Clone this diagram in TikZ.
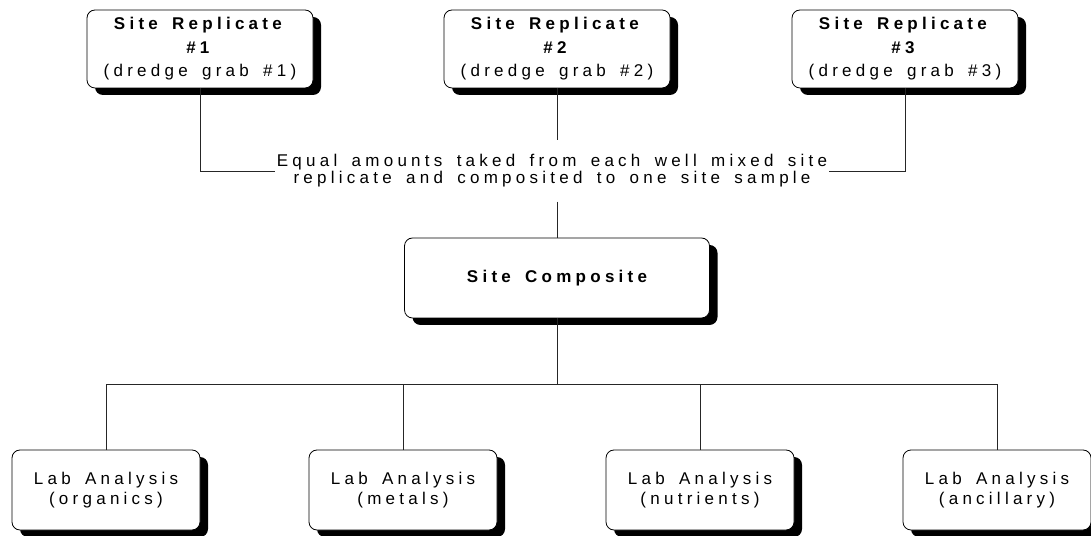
\documentclass[tikz,border=0pt]{standalone}
\usepackage{fontspec}
\setmainfont{Liberation Sans}[LetterSpace=25, WordSpace=1.6]
\usetikzlibrary{positioning,shadows}
\tikzstyle{line} = [draw, black!85, line width=0.7pt]

\begin{document}
\begin{tikzpicture}[
            x = 1pt, y = 1pt, % one unit per pixel
            node distance = 2cm, % distance between nodes
            semithick % line style
        ]

        \tikzstyle{box}=[
            draw = black,
            line width = 0.8pt,
            fill = white,
            rounded corners = 8pt,
            align = center,
            drop shadow = {shadow xshift=8pt, shadow yshift=-7pt, opacity=1, fill=black}
        ]
        \tikzstyle{replicate}=[box, minimum width=226pt, minimum height=78pt,
            font=\fontsize{17}{23.5}\selectfont]
        \tikzstyle{composite}=[box, minimum width=305pt, minimum height=80pt,
            font=\fontsize{17}{20}\selectfont\bfseries]
        \tikzstyle{lab}=[box, minimum width=188pt, minimum height=80pt,
            font=\fontsize{17}{20}\selectfont]
        \tikzstyle{note}=[align=center, inner xsep=2pt, inner ysep=14pt,
            font=\fontsize{17}{17}\selectfont]

        \useasboundingbox (0,0) rectangle (1091,535);

        \node[composite] (comp) at (557,257) {Site Composite};
        \node[replicate] (r2) [above of=comp, node distance=229pt]
            {\textbf{Site Replicate}\\\textbf{\#2}\\(dredge grab \#2)};
        \node[replicate] (r1) [left of=r2, node distance=357pt]
            {\textbf{Site Replicate}\\\textbf{\#1}\\(dredge grab \#1)};
        \node[replicate] (r3) [right of=r2, node distance=348pt]
            {\textbf{Site Replicate}\\\textbf{\#3}\\(dredge grab \#3)};
        \node[note] (mix) [below of=r2, node distance=122pt, xshift=-5pt]
            {Equal amounts taked from each well mixed site\\
             replicate and composited to one site sample};

        \coordinate (bus) at (557,151);
        \node[lab] (l1) at (106,45) {Lab Analysis\\(organics)};
        \node[lab] (l2) [right of=l1, node distance=297pt] {Lab Analysis\\(metals)};
        \node[lab] (l3) [right of=l2, node distance=297pt] {Lab Analysis\\(nutrients)};
        \node[lab] (l4) [right of=l3, node distance=297pt] {Lab Analysis\\(ancillary)};

        \draw[line] (r1) |- (mix.west);
        \draw[line] (r3) |- (mix.east);
        \draw[line] (r2) -- (r2 |- mix.north);
        \draw[line] (mix.south -| comp) -- (comp);
        \draw[line] (comp) -- (bus);
        \foreach \l in {l1,l2,l3,l4}
            \draw[line] (bus) -| (\l);

    \end{tikzpicture}
\end{document}
